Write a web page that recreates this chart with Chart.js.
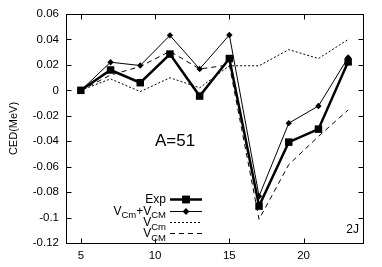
<!DOCTYPE html>
<html>
<head>
<meta charset="utf-8">
<script src="https://cdn.jsdelivr.net/npm/chart.js@4.4.0/dist/chart.umd.min.js"></script>
<style>
  html, body { margin: 0; padding: 0; background: #fff; }
  #wrap { width: 382px; height: 267px; }
</style>
</head>
<body>
<div id="wrap"><canvas id="ced" width="382" height="267"></canvas></div>
<script>
// Data (2J on x, CED in MeV on y)
var spins = [5, 7, 9, 11, 13, 15, 17, 19, 21, 23];
var expCed = [0, 0.016, 0.006, 0.0285, -0.0045, 0.025, -0.091, -0.0407, -0.0305, 0.0224];
var sumCed = [0, 0.0221, 0.0195, 0.0432, 0.0168, 0.0435, -0.0832, -0.0258, -0.0123, 0.0258];
var vCmCed = [0, 0.009, -0.001, 0.0099, 0.002, 0.0193, 0.0193, 0.032, 0.025, 0.040];
var vCMCed = [0, 0.012, 0.0187, 0.0307, 0.0168, 0.020, -0.1014, -0.0584, -0.0362, -0.0154];

// Tick labels
var xTicks = [5, 10, 15, 20];
var yTicks = [-0.12, -0.1, -0.08, -0.06, -0.04, -0.02, 0, 0.02, 0.04, 0.06];

// Legend labels, [text, isSubscript]
var legendLabels = [
  [["Exp", false]],
  [["V", false], ["Cm", true], ["+V", false], ["CM", true]],
  [["V", false], ["Cm", true]],
  [["V", false], ["CM", true]]
];

var FONT = "'Liberation Sans', Arial, Helvetica, sans-serif";

function pts(ys) {
  return spins.map(function (x, i) { return { x: x, y: ys[i] }; });
}

// Frame with inward ticks on all four sides, like gnuplot
var framePlugin = {
  id: 'frame',
  afterDatasetsDraw: function (chart) {
    var ctx = chart.ctx;
    var a = chart.chartArea;
    var xs = chart.scales.x, ys = chart.scales.y;
    var L = Math.round(a.left) + 0.5, R = Math.round(a.right) + 0.5;
    var T = Math.round(a.top) + 0.5, B = Math.round(a.bottom) + 0.5;
    ctx.save();
    ctx.strokeStyle = '#000';
    ctx.lineWidth = 1;
    ctx.strokeRect(L, T, R - L, B - T);
    ctx.beginPath();
    yTicks.forEach(function (v) {
      var py = Math.round(ys.getPixelForValue(v)) + 0.5;
      ctx.moveTo(L, py); ctx.lineTo(L + 5, py);
      ctx.moveTo(R, py); ctx.lineTo(R - 5, py);
    });
    xTicks.forEach(function (v) {
      var px = Math.round(xs.getPixelForValue(v)) + 0.5;
      ctx.moveTo(px, B); ctx.lineTo(px, B - 5);
      ctx.moveTo(px, T); ctx.lineTo(px, T + 5);
    });
    ctx.stroke();

    // labels inside the plot
    ctx.fillStyle = '#000';
    ctx.textBaseline = 'middle';
    ctx.textAlign = 'center';
    ctx.font = '17px ' + FONT;
    ctx.fillText('A=51', 175, 141);
    ctx.textAlign = 'right';
    ctx.font = '12px ' + FONT;
    ctx.fillText('2J', 359, 230);
    ctx.restore();
  }
};

// Gnuplot-like legend: text right aligned, sample line on its right
var legendPlugin = {
  id: 'gpLegend',
  afterDatasetsDraw: function (chart) {
    var ctx = chart.ctx;
    var textRight = 166, lineL = 170, lineR = 202;
    var rowY = [199, 210.5, 222, 233];
    ctx.save();
    ctx.fillStyle = '#000';
    ctx.textBaseline = 'alphabetic';
    legendLabels.forEach(function (parts, i) {
      var base = rowY[i] + 4;
      // measure
      var widths = parts.map(function (p) {
        ctx.font = (p[1] ? '9.5px ' : '12px ') + FONT;
        return ctx.measureText(p[0]).width;
      });
      var total = widths.reduce(function (s, w) { return s + w; }, 0);
      var x = textRight - total;
      ctx.textAlign = 'left';
      parts.forEach(function (p, k) {
        ctx.font = (p[1] ? '9.5px ' : '12px ') + FONT;
        ctx.fillText(p[0], x, p[1] ? base + 3.5 : base);
        x += widths[k];
      });

      var ds = chart.data.datasets[i];
      var y = Math.round(rowY[i]) + 0.5;
      ctx.save();
      ctx.strokeStyle = '#000';
      ctx.lineWidth = ds.borderWidth;
      ctx.setLineDash(ds.borderDash || []);
      ctx.beginPath();
      ctx.moveTo(lineL, y); ctx.lineTo(lineR, y);
      ctx.stroke();
      ctx.restore();
      if (ds.pointRadius > 0) {
        Chart.helpers.drawPoint(ctx, {
          pointStyle: ds.pointStyle, radius: ds.pointRadius, rotation: 0, borderWidth: 0
        }, (lineL + lineR) / 2, y);
        ctx.fill();
      }
    });
    ctx.restore();
  }
};

var ctxP = document.getElementById('ced').getContext('2d');
var cedChart = new Chart(ctxP, {
  type: 'line',
  data: {
    datasets: [
      {
        label: 'Exp', data: pts(expCed),
        borderColor: '#000', backgroundColor: '#000', borderWidth: 2.5,
        pointStyle: 'rect', pointRadius: 5.3, pointBorderWidth: 0
      },
      {
        label: 'VCm+VCM', data: pts(sumCed),
        borderColor: '#000', backgroundColor: '#000', borderWidth: 1,
        pointStyle: 'rectRot', pointRadius: 3.2, pointBorderWidth: 0
      },
      {
        label: 'VCm', data: pts(vCmCed),
        borderColor: '#000', borderWidth: 1, borderDash: [2, 2],
        pointRadius: 0
      },
      {
        label: 'VCM', data: pts(vCMCed),
        borderColor: '#000', borderWidth: 1, borderDash: [5, 4],
        pointRadius: 0
      }
    ]
  },
  options: {
    responsive: false,
    animation: false,
    devicePixelRatio: 1,
    layout: { padding: { top: 14, right: 19, left: 0, bottom: 0 } },
    plugins: { legend: { display: false }, tooltip: { enabled: false } },
    elements: { line: { tension: 0, fill: false } },
    scales: {
      x: {
        type: 'linear', min: 4, max: 24,
        grid: { display: false, drawTicks: false }, border: { display: false },
        afterBuildTicks: function (s) { s.ticks = xTicks.map(function (v) { return { value: v }; }); },
        afterFit: function (s) { s.height = 24; },
        ticks: { color: '#000', padding: 6, font: { family: FONT, size: 11.5 }, maxRotation: 0 }
      },
      y: {
        type: 'linear', min: -0.12, max: 0.06,
        grid: { display: false, drawTicks: false }, border: { display: false },
        afterBuildTicks: function (s) { s.ticks = yTicks.map(function (v) { return { value: v }; }); },
        afterFit: function (s) { s.width = 66; },
        ticks: {
          color: '#000', padding: 7, font: { family: FONT, size: 11.5 },
          callback: function (v) { return String(+Number(v).toFixed(2)); }
        },
        title: {
          display: true, text: 'CED(MeV)', color: '#000',
          font: { family: FONT, size: 11 }, padding: { top: 7, bottom: 0 }
        }
      }
    }
  },
  plugins: [framePlugin, legendPlugin]
});
</script>
</body>
</html>
